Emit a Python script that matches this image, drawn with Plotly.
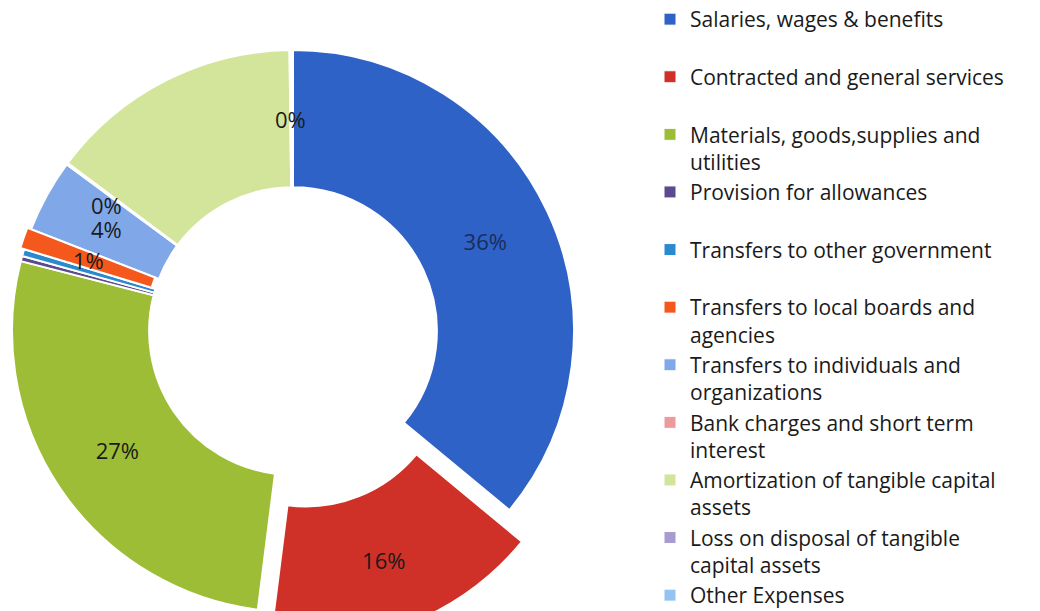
import math
import plotly.graph_objects as go

# ---- data ----
categories = [
    "Salaries, wages & benefits",
    "Contracted and general services",
    "Materials, goods,supplies and<br>utilities",
    "Provision for allowances",
    "Transfers to other government",
    "Transfers to local boards and<br>agencies",
    "Transfers to individuals and<br>organizations",
    "Bank charges and short term<br>interest",
    "Amortization of tangible capital<br>assets",
    "Loss on disposal of tangible<br>capital assets",
    "Other Expenses",
]
values = [36.0, 16.0, 27.0, 0.3, 0.4, 1.2, 4.2, 0.1, 14.6, 0.1, 0.1]
colors = ["#2e62c6", "#cf3128", "#9dbd36", "#5b4a8e", "#2a8ad0", "#f4581c",
          "#80a8e8", "#ec9a9c", "#d3e59b", "#a89bd0", "#94c2f2"]
# slices whose percentage is drawn by the pie itself / by a label placed at the slice
pie_labelled = [0, 1, 2]
ring_labelled = [5, 6, 9]
text_colors = ["#1c2c5a"] + ["#1a1a1a"] * 10
exploded = {1: 34.0, 5: 4.0}   # slice index -> pull distance (px)

W, H = 1040, 660
PAGE = 8.0                       # page offset of the plot
CX, CY, R = 293.0 - PAGE, 331.0 - PAGE, 281.0
HOLE = 0.512
FONT = "'Open Sans', sans-serif"

total = sum(values)
legend_labels = [c if "<br>" in c else c + "<br> " for c in categories]


def domain_for(cx, cy):
    x0 = max(0.0, (cx - R) / W)
    return dict(x=[x0, x0 + 2 * R / W],
                y=[(H - cy - R) / H, (H - cy + R) / H])


def pie(keep, cx, cy):
    n = len(values)
    cols = [colors[i] if i in keep else "rgba(0,0,0,0)" for i in range(n)]
    widths = [2 if i in keep else 0 for i in range(n)]
    tmpl = ["%{percent:.0%}" if (i in keep and i in pie_labelled) else "" for i in range(n)]
    return go.Pie(
        labels=legend_labels, values=values, sort=False, direction="clockwise",
        rotation=0, hole=HOLE, domain=domain_for(cx, cy),
        marker=dict(colors=cols, line=dict(color="white", width=widths)),
        texttemplate=tmpl, textposition="inside",
        insidetextorientation="horizontal",
        textfont=dict(family=FONT, size=22, color=text_colors),
        showlegend=False, hoverinfo="label+percent",
    )


fig = go.Figure()
# legend provider (tiny, below the visible window)
fig.add_trace(go.Pie(
    labels=legend_labels, values=values, sort=False, textinfo="none",
    marker=dict(colors=colors, line=dict(color="white", width=1)),
    domain=dict(x=[0.999, 1.0], y=[0.0, 0.0015]), showlegend=True, hoverinfo="skip",
))
# main ring (non-exploded slices)
main_keep = [i for i in range(len(values)) if i not in exploded]
fig.add_trace(pie(main_keep, CX, CY))

# exploded slices + labels of small slices
annotations = []
cum = 0.0
r_mid = R * (1 + HOLE) / 2
for i, v in enumerate(values):
    mid = (cum + v / 2) / total * 2 * math.pi
    d = exploded.get(i, 0.0)
    sx, sy = CX + d * math.sin(mid), CY - d * math.cos(mid)
    if i in exploded:
        fig.add_trace(pie([i], sx, sy))
    if i in ring_labelled:
        px, py = sx + r_mid * math.sin(mid), sy - r_mid * math.cos(mid)
        annotations.append(dict(x=px / W, y=(H - py) / H, xref="paper", yref="paper",
                                xanchor="center", yanchor="middle",
                                text=f"{v / total:.0%}", showarrow=False,
                                font=dict(family=FONT, size=22, color="#1a1a1a")))
        if i == 6:   # bank charges label sits just above the transfers label
            annotations.append(dict(x=px / W, y=(H - py) / H, xref="paper", yref="paper",
                                    xanchor="center", yanchor="middle",
                                    yshift=24, text=f"{values[7] / total:.0%}",
                                    showarrow=False,
                                    font=dict(family=FONT, size=22, color="#1a1a1a")))
    cum += v

fig.update_layout(
    width=W, height=H,
    margin=dict(l=0, r=0, t=0, b=0, autoexpand=False),
    paper_bgcolor="white", plot_bgcolor="white",
    uniformtext=dict(minsize=22, mode="show"),
    annotations=annotations,
    legend=dict(
        x=642 / W, y=1.0 + 9 / H, xanchor="left", yanchor="top",
        font=dict(family=FONT, size=21, color="#1a1a1a"),
        valign="top", bgcolor="rgba(0,0,0,0)", traceorder="normal",
    ),
)
try:
    fig.update_layout(legend_maxheight=H)
except Exception:
    pass

fig.write_html("out.html")
